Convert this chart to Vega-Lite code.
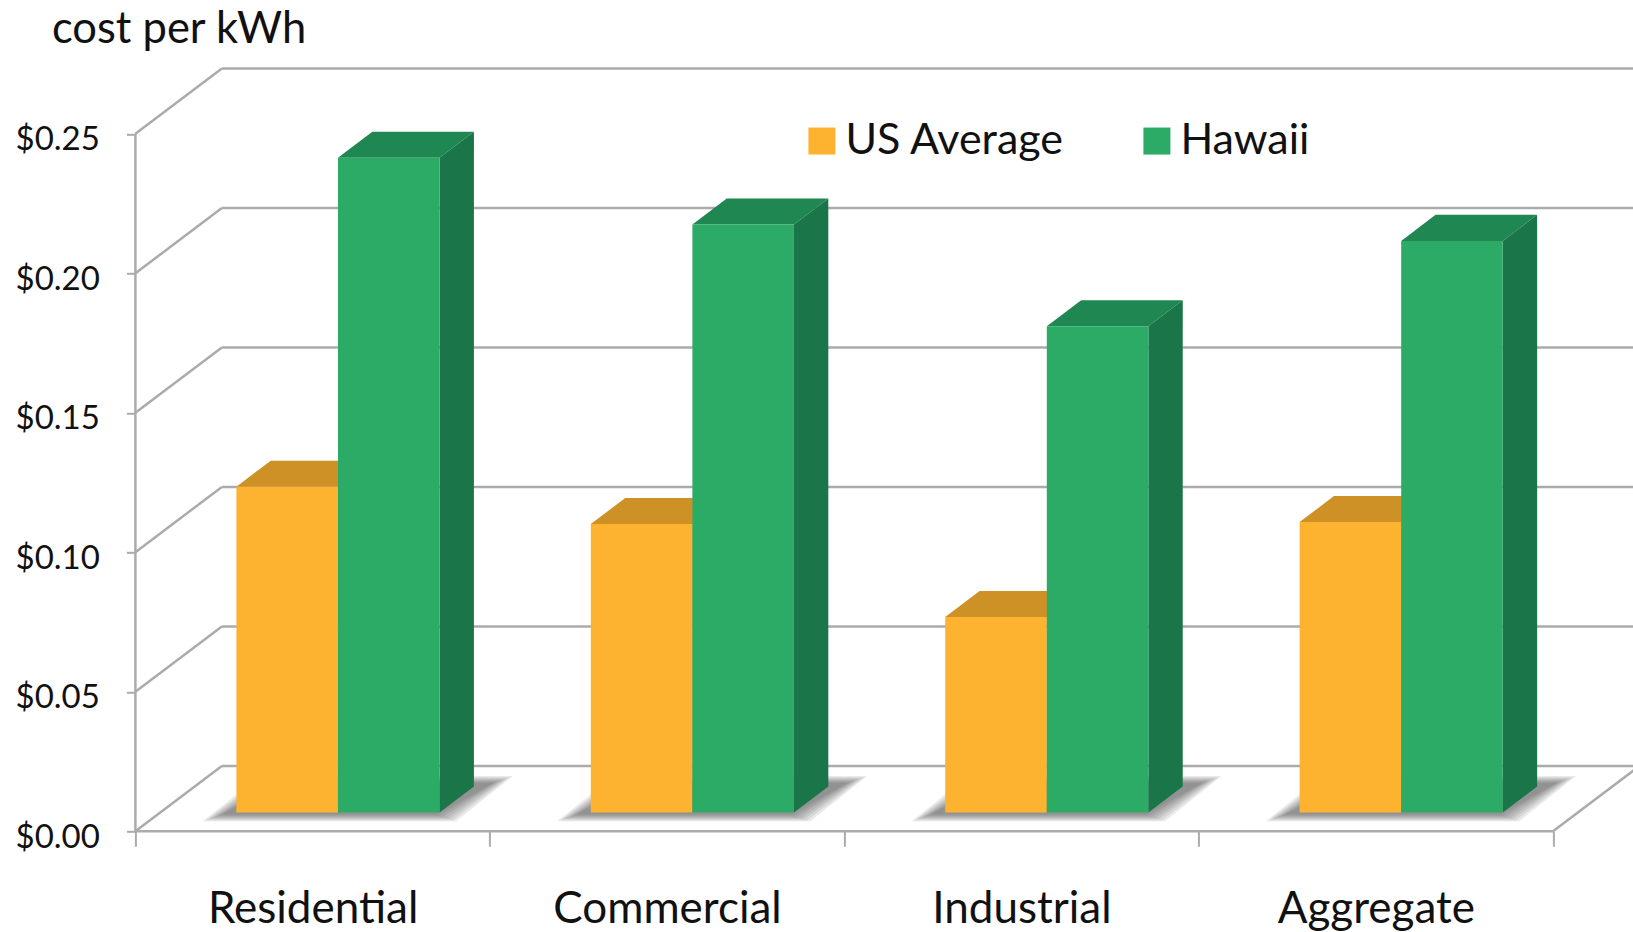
{
  "$schema": "https://vega.github.io/schema/vega-lite/v6.json",
  "autosize": "none",
  "width": 1497.6,
  "height": 763,
  "padding": {"left": 135.4, "top": 68.3, "right": 0, "bottom": 100.7},
  "background": "white",
  "config": {"view": {"stroke": null}, "font": "Lato"},
  "datasets": {
    "rates": [
      {"category": "Residential", "series": "US Average", "cost": 0.1168},
      {"category": "Residential", "series": "Hawaii", "cost": 0.2347},
      {"category": "Commercial", "series": "US Average", "cost": 0.1034},
      {"category": "Commercial", "series": "Hawaii", "cost": 0.2108},
      {"category": "Industrial", "series": "US Average", "cost": 0.0701},
      {"category": "Industrial", "series": "Hawaii", "cost": 0.1743},
      {"category": "Aggregate", "series": "US Average", "cost": 0.1041},
      {"category": "Aggregate", "series": "Hawaii", "cost": 0.2049}
    ],
    "gridlines": [
      {"level": 0}, {"level": 0.05}, {"level": 0.1}, {"level": 0.15}, {"level": 0.2}, {"level": 0.25}
    ],
    "floorEdge": [{"from": 4, "to": 4.244, "low": 0, "high": 0.02344}],
    "frontEdges": [{"start": 0, "end": 4, "zero": 0, "top": 0.25}]
  },
  "data": {"name": "rates"},
  "transform": [
    {"calculate": "indexof(['Residential','Commercial','Industrial','Aggregate'], datum.category)", "as": "slot"},
    {"calculate": "datum.slot + 0.285 + (datum.series === 'Hawaii' ? 0.2866 : 0)", "as": "left"},
    {"calculate": "datum.left + 0.2866", "as": "right"},
    {"calculate": "0.00672", "as": "base"},
    {"calculate": "datum.base + datum.cost", "as": "top"},
    {"calculate": "datum.category + ' ' + datum.series", "as": "barKey"}
  ],
  "resolve": {"axis": {"x": "independent", "y": "independent"}},
  "layer": [
    {
      "description": "Front axis lines and both axes",
      "data": {"name": "frontEdges"},
      "mark": {"type": "rule", "color": "#ABABAB", "strokeWidth": 2.5},
      "encoding": {
        "x": {
          "field": "start", "type": "quantitative",
          "scale": {"domain": [0, 4.2257], "nice": false, "zero": false},
          "axis": {
            "values": [0, 0.5, 1, 1.5, 2, 2.5, 3, 3.5, 4],
            "title": null, "domain": false, "grid": false,
            "tickSize": 15, "tickWidth": 2, "tickColor": "#ABABAB",
            "tickOpacity": {"expr": "datum.value % 1 === 0 ? 1 : 0"},
            "labelFontSize": 44, "labelColor": "#111111", "labelPadding": 41, "labelLimit": 400,
            "labelOverlap": false, "labelBound": false, "labelFlush": false,
            "labelExpr": "datum.value === 0.5 ? 'Residential' : datum.value === 1.5 ? 'Commercial' : datum.value === 2.5 ? 'Industrial' : datum.value === 3.5 ? 'Aggregate' : ''"
          }
        },
        "x2": {"field": "end"},
        "y": {
          "field": "zero", "type": "quantitative",
          "scale": {"domain": [0, 0.27348], "nice": false},
          "axis": {
            "values": [0, 0.05, 0.1, 0.15, 0.2, 0.25],
            "format": "$.2f",
            "title": "cost per kWh", "titleAngle": 0, "titleAlign": "left", "titleBaseline": "alphabetic",
            "titleX": -84, "titleY": -26, "titleFontSize": 43.5, "titleFontWeight": "normal", "titleColor": "#111111",
            "domain": false, "grid": false,
            "tickSize": 9, "tickWidth": 2, "tickColor": "#ABABAB",
            "labelFontSize": 33, "labelColor": "#111111", "labelPadding": 27, "labelOffset": 6, "labelOverlap": false, "labelBound": false, "labelFlush": false
          }
        }
      }
    },
    {
      "description": "Y axis line",
      "data": {"name": "frontEdges"},
      "mark": {"type": "rule", "color": "#ABABAB", "strokeWidth": 2.5},
      "encoding": {
        "x": {"field": "start", "type": "quantitative", "axis": null},
        "y": {"field": "zero", "type": "quantitative", "axis": null},
        "y2": {"field": "top"}
      }
    },
    {
      "description": "Back wall lines",
      "data": {"name": "gridlines"},
      "transform": [
        {"calculate": "datum.level + 0.02344", "as": "backLevel"},
        {"calculate": "0.244", "as": "wallStart"},
        {"calculate": "4.2257", "as": "wallEnd"}
      ],
      "mark": {"type": "rule", "color": "#ABABAB", "strokeWidth": 2.5},
      "encoding": {
        "x": {"field": "wallStart", "type": "quantitative", "axis": null},
        "x2": {"field": "wallEnd"},
        "y": {"field": "backLevel", "type": "quantitative", "axis": null}
      }
    },
    {
      "description": "Side wall diagonals",
      "data": {"name": "gridlines"},
      "transform": [
        {"calculate": "datum.level + 0.02344", "as": "backLevel"},
        {"calculate": "0", "as": "wallFront"},
        {"calculate": "0.244", "as": "wallBack"}
      ],
      "mark": {"type": "rule", "color": "#ABABAB", "strokeWidth": 2.5},
      "encoding": {
        "x": {"field": "wallFront", "type": "quantitative", "axis": null},
        "x2": {"field": "wallBack"},
        "y": {"field": "level", "type": "quantitative", "axis": null},
        "y2": {"field": "backLevel"}
      }
    },
    {
      "description": "Right floor edge",
      "data": {"name": "floorEdge"},
      "mark": {"type": "rule", "color": "#ABABAB", "strokeWidth": 2.5},
      "encoding": {
        "x": {"field": "from", "type": "quantitative", "axis": null},
        "x2": {"field": "to"},
        "y": {"field": "low", "type": "quantitative", "axis": null},
        "y2": {"field": "high"}
      }
    },
    {
      "description": "Floor shadow, stacked translucent insets",
      "transform": [
        {"filter": "datum.series === 'Hawaii'"},
        {"calculate": "[0,1,2,3,4,5,6]", "as": "inset"},
        {"flatten": ["inset"]},
        {"calculate": "[0,1]", "as": "t"},
        {"flatten": ["t"]},
        {"calculate": "datum.slot + 0.19 + datum.inset * 0.009 + datum.t * 0.16", "as": "shadowLeft"},
        {"calculate": "datum.slot + 0.905 - datum.inset * 0.009 + datum.t * 0.16", "as": "shadowRight"},
        {"calculate": "0.0036 + datum.inset * 0.0004 + datum.t * (0.0162 - datum.inset * 0.0008)", "as": "shadowY"},
        {"calculate": "datum.category + datum.inset", "as": "shadowKey"}
      ],
      "mark": {"type": "area", "orient": "horizontal", "color": "#444444", "opacity": 0.11},
      "encoding": {
        "y": {"field": "shadowY", "type": "quantitative", "axis": null},
        "x": {"field": "shadowLeft", "type": "quantitative", "axis": null},
        "x2": {"field": "shadowRight"},
        "detail": {"field": "shadowKey"}
      }
    },
    {
      "description": "Top faces",
      "transform": [
        {"calculate": "[0,1]", "as": "t"},
        {"flatten": ["t"]},
        {"calculate": "datum.left + datum.t * 0.097", "as": "topLeft"},
        {"calculate": "datum.right + datum.t * 0.097", "as": "topRight"},
        {"calculate": "datum.top + datum.t * 0.00933", "as": "topY"},
        {"calculate": "datum.series + ' top'", "as": "face"}
      ],
      "mark": {"type": "area", "orient": "horizontal"},
      "encoding": {
        "y": {"field": "topY", "type": "quantitative", "axis": null},
        "x": {"field": "topLeft", "type": "quantitative", "axis": null},
        "x2": {"field": "topRight"},
        "detail": {"field": "barKey"},
        "fill": {
          "field": "face", "type": "nominal", "legend": null,
          "scale": {"domain": ["US Average top", "Hawaii top", "US Average side", "Hawaii side"], "range": ["#CE9125", "#1F8752", "#B57F20", "#1A7648"]}
        }
      }
    },
    {
      "description": "Side faces",
      "transform": [
        {"calculate": "[0,1]", "as": "t"},
        {"flatten": ["t"]},
        {"calculate": "datum.right + datum.t * 0.097", "as": "sideX"},
        {"calculate": "datum.top + datum.t * 0.00933", "as": "sideTop"},
        {"calculate": "datum.base + datum.t * 0.00933", "as": "sideBase"},
        {"calculate": "datum.series + ' side'", "as": "face"}
      ],
      "mark": {"type": "area", "orient": "vertical"},
      "encoding": {
        "x": {"field": "sideX", "type": "quantitative", "axis": null},
        "y": {"field": "sideTop", "type": "quantitative", "axis": null},
        "y2": {"field": "sideBase"},
        "detail": {"field": "barKey"},
        "fill": {"field": "face", "type": "nominal", "legend": null}
      }
    },
    {
      "description": "Front faces",
      "mark": {"type": "rect"},
      "encoding": {
        "x": {"field": "left", "type": "quantitative", "axis": null},
        "x2": {"field": "right"},
        "y": {"field": "base", "type": "quantitative", "axis": null},
        "y2": {"field": "top"},
        "color": {
          "field": "series", "type": "nominal",
          "scale": {"domain": ["US Average", "Hawaii"], "range": ["#FDB32F", "#2CAB66"]},
          "legend": {
            "orient": "none", "legendX": 665, "legendY": 51, "direction": "horizontal",
            "title": null, "symbolType": "square", "symbolSize": 729, "symbolStrokeWidth": 0,
            "labelFontSize": 43, "labelColor": "#111111", "labelOffset": 2, "columnPadding": 70, "labelLimit": 400
          }
        }
      }
    }
  ]
}
